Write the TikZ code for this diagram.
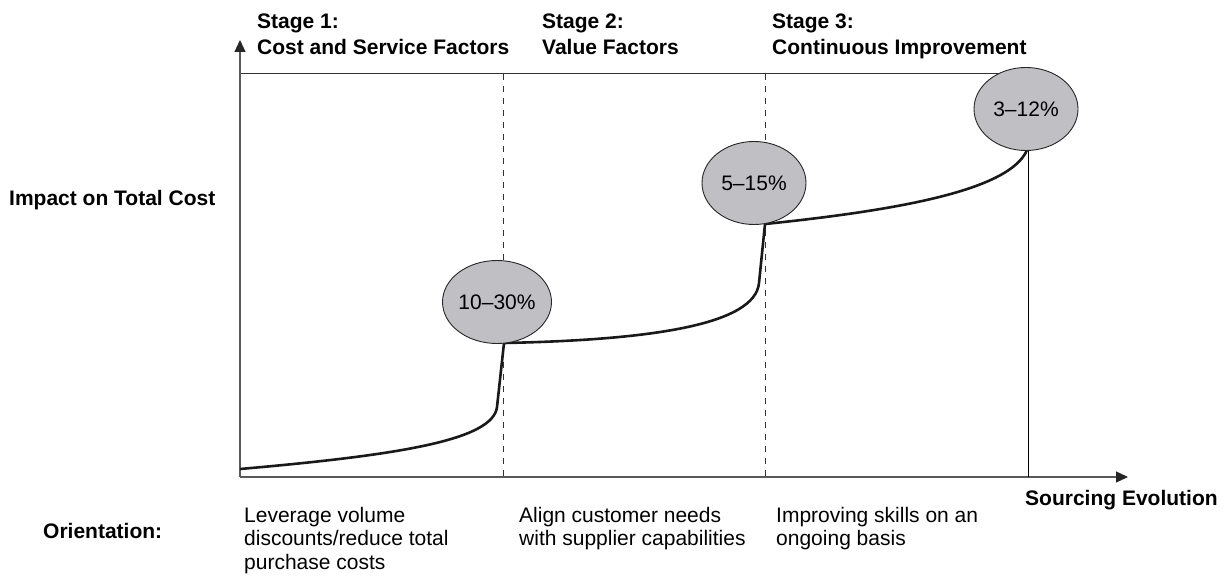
\documentclass[tikz,border=0pt]{standalone}
\usepackage{fontspec}
\setmainfont{Liberation Sans}
\usetikzlibrary{arrows.meta,shapes.geometric}
\definecolor{bubblegray}{RGB}{192,192,196}
\begin{document}
\begin{tikzpicture}[x=1pt,y=-1pt,
  lbl/.style={inner sep=0pt, anchor=base west, font=\fontsize{21}{23.5}\selectfont, align=left},
  blbl/.style={inner sep=0pt, anchor=base west, font=\fontsize{21}{26}\selectfont\bfseries, align=left},
  axis/.style={draw=black!65, line width=1.3pt, -{Triangle[length=12pt,width=11pt,color=black!85]}},
  frame/.style={draw=black!80, line width=1pt},
  guide/.style={draw=black!80, line width=1pt, dash pattern=on 6pt off 6pt},
  curve/.style={draw=black!90, line width=2.6pt, line join=round},
  bubble/.style={ellipse, draw=black!85, line width=0.9pt, fill=bubblegray,
    minimum width=104pt, minimum height=83pt, inner sep=0pt,
    font=\fontsize{21}{24}\selectfont}]
\useasboundingbox (0,0) rectangle (1231,577);
% reference coordinates
\coordinate (O) at (240,477);
\coordinate (ytip) at (240,40);
\coordinate (xtip) at (1128,477);
\coordinate (tl) at (240,74);
\coordinate (tr) at (1025,74);
\coordinate (d1t) at (503,74);
\coordinate (d1b) at (503,477);
\coordinate (d2t) at (765,74);
\coordinate (d2b) at (765,477);
\coordinate (c0) at (240,469);
\coordinate (c1) at (497,407);
\coordinate (k1) at (504,343);
\coordinate (c2) at (759,283);
\coordinate (k2) at (765,224);
\coordinate (k3) at (1027,150);
\coordinate (v3b) at (1028,477);
% frame and guides
\draw[frame] (tl) -- (tr);
\draw[guide] (d1t) -- (d1b);
\draw[guide] (d2t) -- (d2b);
\draw[axis] (O) -- (ytip);
\draw[axis] (O) -- (xtip);
% curve
\draw[curve] (c0) .. controls (400,455) and (493,440) .. (c1) -- (k1)
  .. controls (650,340) and (755,325) .. (c2) -- (k2)
  .. controls (900,210) and (1010,190) .. (k3);
% bubbles
\node[bubble] (b1) at (497,302) {10–30\%};
\node[bubble] (b2) at (754,183) {5–15\%};
\node[bubble] (b3) at (1026,109) {3–12\%};
\draw[draw=black, line width=0.9pt] (b3.south -| v3b) -- (v3b);
% labels (base anchor = baseline of the last line)
\node[blbl] (s1) at (257,55) {Stage 1:\\Cost and Service Factors};
\node[blbl] (s2) at (542,55) {Stage 2:\\Value Factors};
\node[blbl] (s3) at (772,55) {Stage 3:\\Continuous Improvement};
\node[blbl] (yl) at (9,206) {Impact on Total Cost};
\node[blbl] (xl) at (1025,505) {Sourcing Evolution};
\node[blbl] (or) at (43,538) {Orientation:};
\node[lbl] (o1) at (244,569) {Leverage volume\\discounts/reduce total\\purchase costs};
\node[lbl] (o2) at (519,545.5) {Align customer needs\\with supplier capabilities};
\node[lbl] (o3) at (776,545.5) {Improving skills on an\\ongoing basis};
\end{tikzpicture}
\end{document}
